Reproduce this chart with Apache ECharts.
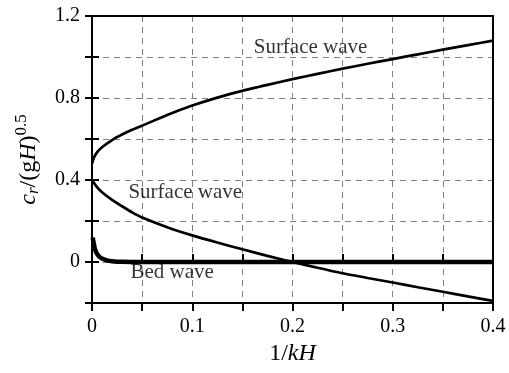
<!DOCTYPE html>
<html><head><meta charset="utf-8">
<script src="https://cdn.jsdelivr.net/npm/echarts@6/dist/echarts.min.js"></script>
<style>html,body{margin:0;padding:0;background:#fff}#c{width:509px;height:373px}</style>
</head><body><div id="c"></div>
<script>
var upperX = [0, 0.002, 0.005, 0.01, 0.02, 0.03, 0.04, 0.05, 0.075, 0.1, 0.125, 0.15, 0.175, 0.2, 0.225, 0.25, 0.275, 0.3, 0.325, 0.35, 0.375, 0.4];
var upperY = [0.48, 0.51, 0.535, 0.56, 0.595, 0.622, 0.645, 0.665, 0.717, 0.763, 0.802, 0.835, 0.864, 0.892, 0.918, 0.943, 0.967, 0.99, 1.013, 1.036, 1.058, 1.08];
var lowerX = [0, 0.002, 0.005, 0.01, 0.02, 0.03, 0.04, 0.05, 0.075, 0.1, 0.125, 0.15, 0.175, 0.2, 0.225, 0.25, 0.275, 0.3, 0.325, 0.35, 0.375, 0.4];
var lowerY = [0.4, 0.385, 0.365, 0.34, 0.303, 0.272, 0.242, 0.217, 0.17, 0.13, 0.095, 0.062, 0.03, 0, -0.028, -0.055, -0.078, -0.1, -0.123, -0.145, -0.168, -0.19];
var bedX = [0.0008, 0.0012, 0.002, 0.003, 0.005, 0.0075, 0.01, 0.015, 0.02, 0.03, 0.05, 0.1, 0.2, 0.3, 0.4];
var bedY = [0.12, 0.105, 0.085, 0.062, 0.04, 0.025, 0.017, 0.008, 0.004, 0.001, 0, 0, 0, 0, 0];
var annotations = [[0.218, 1.044, 'Surface wave'], [0.093, 0.337, 'Surface wave'], [0.080, -0.05, 'Bed wave']];
var xTicks = ['0', '0.1', '0.2', '0.3', '0.4'];
var yTicks = ['0', '0.4', '0.8', '1.2'];

function zip(xs, ys) { return xs.map(function (x, i) { return [x, ys[i]]; }); }
var serif = '"Liberation Serif", "DejaVu Serif", serif';
var ink = '#000';
var chart = echarts.init(document.getElementById('c'));
function fmtX(v) { var s = String(+v.toFixed(2)); return xTicks.indexOf(s) >= 0 ? s : ''; }
function fmtY(v) { var s = String(+v.toFixed(2)); return yTicks.indexOf(s) >= 0 ? s : ''; }
var baseX = { type: 'value', min: 0, max: 0.4, interval: 0.05 };
var baseY = { type: 'value', min: -0.2, max: 1.2, interval: 0.2 };
var frameLine = { show: true, onZero: false, lineStyle: { color: '#000', width: 2 } };
chart.setOption({
  animation: false,
  grid: { left: 92, right: 16, top: 16, bottom: 70 },
  xAxis: [
    Object.assign({}, baseX, {
      position: 'bottom',
      name: '{n|1/}{i|kH}', nameLocation: 'middle', nameGap: 36,
      nameTextStyle: { rich: { n: { fontFamily: serif, fontSize: 24, color: ink }, i: { fontFamily: serif, fontSize: 24, fontStyle: 'italic', color: ink } } },
      axisLine: frameLine,
      axisTick: { show: true, inside: false, length: 8, lineStyle: { color: '#000', width: 2 } },
      axisLabel: { formatter: fmtX, margin: 14, fontFamily: serif, fontSize: 20, color: ink },
      splitLine: { show: true, lineStyle: { color: '#808080', width: 1, type: [6, 5] } }
    }),
    Object.assign({}, baseX, {
      position: 'bottom',
      axisLine: { show: false },
      axisTick: { show: true, inside: true, length: 8, lineStyle: { color: '#000', width: 2 } },
      axisLabel: { show: false }, splitLine: { show: false }
    }),
    Object.assign({}, baseX, {
      position: 'top', axisLine: frameLine,
      axisTick: { show: false }, axisLabel: { show: false }, splitLine: { show: false }
    })
  ],
  yAxis: [
    Object.assign({}, baseY, {
      position: 'left',
      name: '{i|c}{s|r}{n|/(g}{i|H}{n|)}{p|0.5}', nameLocation: 'middle', nameGap: 47, nameRotate: 90,
      nameTextStyle: { rich: {
        n: { fontFamily: serif, fontSize: 24, color: ink },
        i: { fontFamily: serif, fontSize: 24, fontStyle: 'italic', color: ink },
        s: { fontFamily: serif, fontSize: 17, fontStyle: 'italic', color: ink, padding: [10, 0, 0, 0] },
        p: { fontFamily: serif, fontSize: 17, color: ink, padding: [0, 0, 15, 0] }
      } },
      axisLine: frameLine,
      axisTick: { show: true, inside: false, length: 7, lineStyle: { color: '#000', width: 2 } },
      axisLabel: { formatter: fmtY, margin: 12, fontFamily: serif, fontSize: 20, color: ink },
      splitLine: { show: true, lineStyle: { color: '#808080', width: 1, type: [6, 5] } }
    }),
    Object.assign({}, baseY, {
      position: 'left',
      axisLine: { show: false },
      axisTick: { show: true, inside: true, length: 7, lineStyle: { color: '#000', width: 2 } },
      axisLabel: { show: false }, splitLine: { show: false }
    }),
    Object.assign({}, baseY, {
      position: 'right', axisLine: frameLine,
      axisTick: { show: false }, axisLabel: { show: false }, splitLine: { show: false }
    })
  ],
  series: [
    { type: 'line', data: zip(upperX, upperY), showSymbol: false, smooth: 0.2, lineStyle: { color: '#000', width: 2.7 } },
    { type: 'line', data: zip(lowerX, lowerY), showSymbol: false, smooth: 0.2, lineStyle: { color: '#000', width: 2.7 } },
    { type: 'line', data: zip(bedX, bedY), showSymbol: false, smooth: 0.3, lineStyle: { color: '#000', width: 4.5 } },
    { type: 'scatter', data: annotations, symbolSize: 0, silent: true,
      label: { show: true, position: 'inside', formatter: function (p) { return p.data[2]; }, fontFamily: serif, fontSize: 21, color: ink } }
  ]
});
</script></body></html>
